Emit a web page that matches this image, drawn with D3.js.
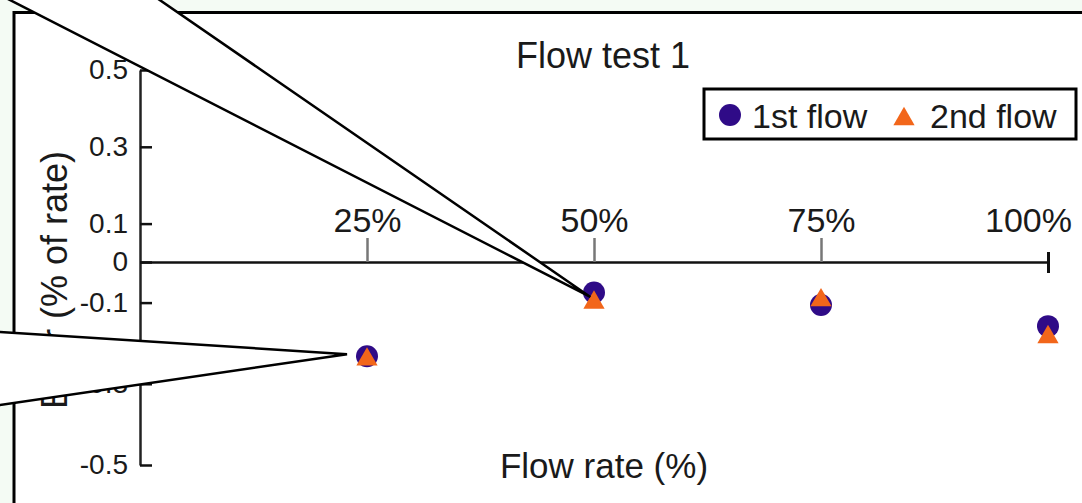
<!DOCTYPE html>
<html>
<head>
<meta charset="utf-8">
<script src="https://cdn.jsdelivr.net/npm/d3@7"></script>
<style>
  html, body { margin: 0; padding: 0; background: #f4fbf4; }
  svg { display: block; font-family: 'Liberation Sans', Arial, sans-serif; }
</style>
</head>
<body>
<svg id="chart" width="1082" height="503"></svg>
<script>
// flow rate (%) and error (% of rate)
var flowRates = [25, 50, 75, 100]
var firstFlow = [-0.232, -0.075, -0.106, -0.158]
var secondFlow = [-0.24, -0.1, -0.094, -0.185]

var yTicks = [0.5, 0.3, 0.1, 0, -0.1, -0.3, -0.5]
var xTicks = [25, 50, 75, 100]

var seriesNames = ['1st flow', '2nd flow']

// callout wedges, in data units (flow %, error)
var calloutTop = [[-18.6, 0.734], [49.6, -0.086], [-1.0, 0.734]]
var calloutLeft = [[-20, -0.166], [22.8, -0.227], [-20, -0.367]]

var purple = '#2f0b87'
var orange = '#f2661a'

var svg = d3.select('#chart')

var x = d3.scaleLinear().domain([0, 100]).range([140, 1048])
var y = d3.scaleLinear().domain([-0.5, 0, 0.5]).range([465, 262, 70])

// plot frame
svg.append('rect')
  .attr('x', 14)
  .attr('y', 12.5)
  .attr('width', 1200)
  .attr('height', 600)
  .attr('fill', 'white')
  .attr('stroke', 'black')
  .attr('stroke-width', 3)

// title
svg.append('text')
  .attr('x', 603)
  .attr('y', 68)
  .attr('text-anchor', 'middle')
  .attr('font-size', 36)
  .attr('fill', '#1a1a1a')
  .text('Flow test 1')

// y axis: ticks pointing into the plot, labels on the left
var yAxis = svg.append('g')
  .attr('transform', 'translate(' + x(0) + ',0)')
  .call(d3.axisLeft(y)
    .tickValues(yTicks)
    .tickFormat(function (d) { return String(d) })
    .tickSizeInner(-12)
    .tickSizeOuter(0)
    .tickPadding(12))

yAxis.select('.domain').attr('stroke', '#222').attr('stroke-width', 2.5)
yAxis.selectAll('.tick line').attr('stroke', '#111').attr('stroke-width', 2.5)
yAxis.selectAll('.tick text')
  .attr('font-size', 28)
  .attr('font-family', 'Liberation Sans, Arial, sans-serif')
  .attr('fill', '#1a1a1a')

// x axis sits on zero, labels above
var xAxis = svg.append('g')
  .attr('transform', 'translate(0,' + y(0) + ')')
  .call(d3.axisTop(x)
    .tickValues(xTicks)
    .tickFormat(function (d) { return d + '%' })
    .tickSizeInner(24)
    .tickSizeOuter(0)
    .tickPadding(6))

xAxis.select('.domain').attr('stroke', '#111').attr('stroke-width', 2.5)
xAxis.selectAll('.tick line').attr('stroke', '#777').attr('stroke-width', 2.5)
xAxis.selectAll('.tick text')
  .attr('font-size', 34)
  .attr('font-family', 'Liberation Sans, Arial, sans-serif')
  .attr('fill', '#1a1a1a')

// end tick crosses the axis, its label is pulled in from the edge
var endTick = xAxis.selectAll('.tick').filter(function (d) { return d === 100 })
endTick.select('line')
  .attr('y1', 11)
  .attr('y2', -10)
  .attr('stroke', '#111')
  .attr('stroke-width', 3)
endTick.select('text').attr('dx', -20)

// axis titles
svg.append('text')
  .attr('x', 604)
  .attr('y', 478)
  .attr('text-anchor', 'middle')
  .attr('font-size', 35)
  .attr('fill', '#1a1a1a')
  .text('Flow rate (%)')

svg.append('text')
  .attr('transform', 'translate(67,280) rotate(-90)')
  .attr('text-anchor', 'middle')
  .attr('font-size', 36)
  .attr('fill', '#1a1a1a')
  .text('Error (% of rate)')

// points
var circleSym = d3.symbol().type(d3.symbolCircle).size(380)
var triSym = d3.symbol().type(d3.symbolTriangle).size(195)

svg.append('g')
  .selectAll('path')
  .data(flowRates)
  .join('path')
  .attr('d', circleSym)
  .attr('fill', purple)
  .attr('transform', function (d, i) {
    return 'translate(' + x(d) + ',' + y(firstFlow[i]) + ')'
  })

svg.append('g')
  .selectAll('path')
  .data(flowRates)
  .join('path')
  .attr('d', triSym)
  .attr('fill', orange)
  .attr('transform', function (d, i) {
    return 'translate(' + x(d) + ',' + y(secondFlow[i]) + ')'
  })

// legend
var legend = svg.append('g')

legend.append('rect')
  .attr('x', 704)
  .attr('y', 89)
  .attr('width', 372)
  .attr('height', 50)
  .attr('fill', 'white')
  .attr('stroke', 'black')
  .attr('stroke-width', 3)

legend.append('path')
  .attr('d', circleSym)
  .attr('fill', purple)
  .attr('transform', 'translate(730,115)')

legend.append('text')
  .attr('x', 752)
  .attr('y', 128)
  .attr('font-size', 34)
  .attr('fill', '#1a1a1a')
  .text(seriesNames[0])

legend.append('path')
  .attr('d', triSym)
  .attr('fill', orange)
  .attr('transform', 'translate(904,119)')

legend.append('text')
  .attr('x', 930)
  .attr('y', 128)
  .attr('font-size', 34)
  .attr('fill', '#1a1a1a')
  .text(seriesNames[1])

// callout wedges drawn over the chart
var wedge = d3.line()
  .x(function (d) { return x(d[0]) })
  .y(function (d) { return y(d[1]) })

svg.append('g')
  .selectAll('path')
  .data([calloutTop, calloutLeft])
  .join('path')
  .attr('d', function (d) { return wedge(d) + 'Z' })
  .attr('fill', 'white')
  .attr('stroke', 'black')
  .attr('stroke-width', 2.5)
  .attr('stroke-linejoin', 'miter')
</script>
</body>
</html>
